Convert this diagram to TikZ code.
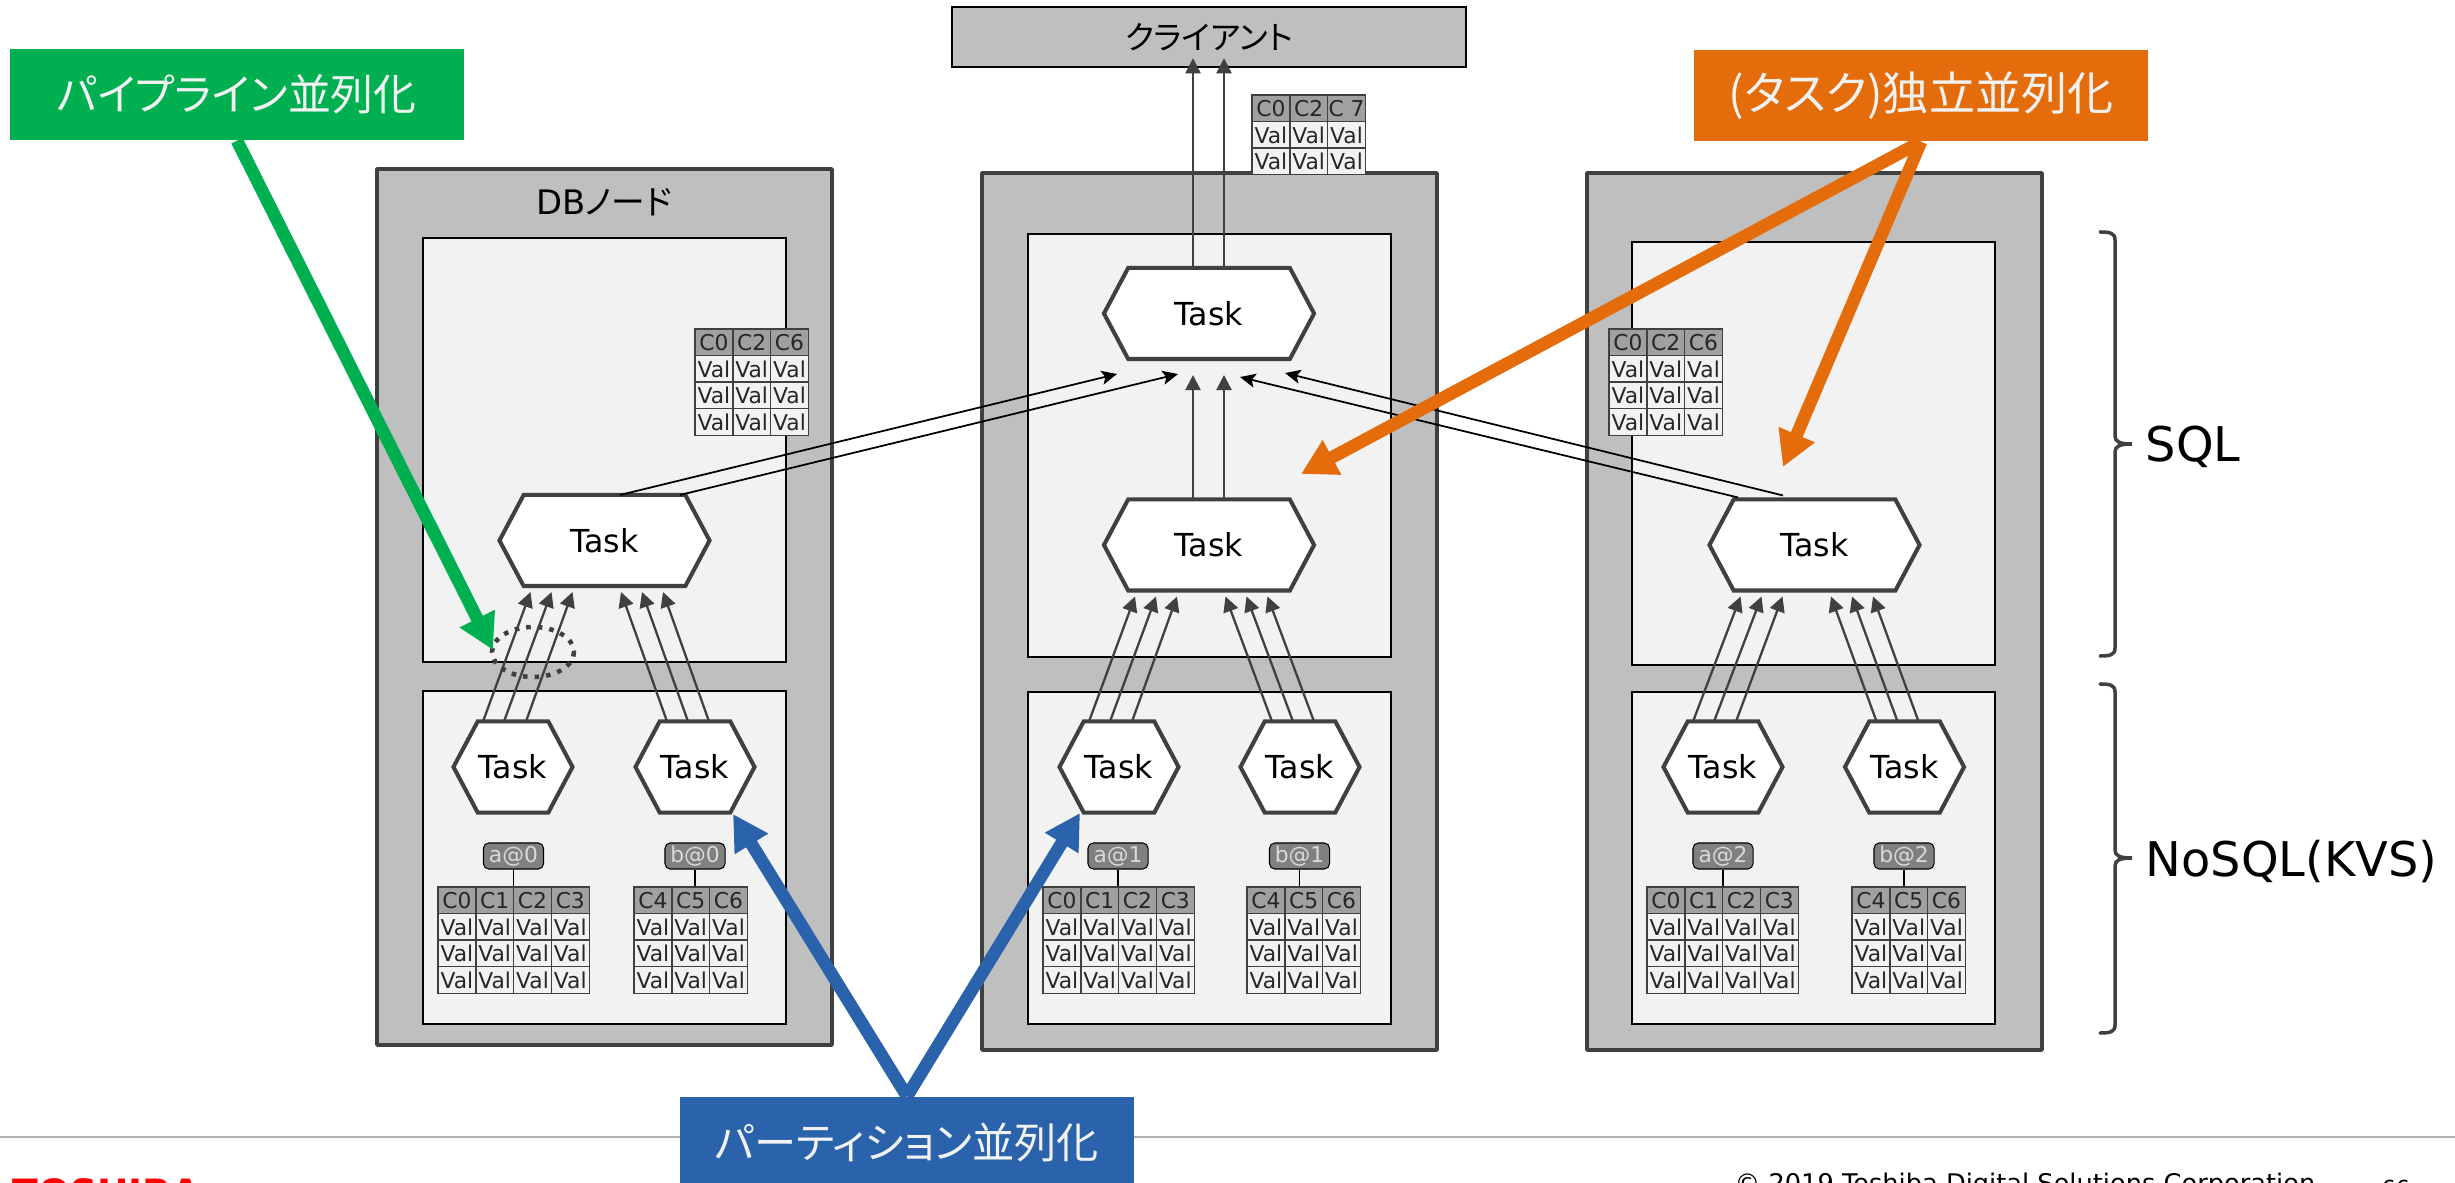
\documentclass[tikz,border=0pt]{standalone}
\usepackage{fontspec}
\usetikzlibrary{arrows.meta, calc, shapes.symbols}
\setmainfont{DejaVu Sans}
\newfontfamily\cjkfont[RawFeature=+palt]{Noto Sans CJK JP}
\definecolor{darkline}{HTML}{404040}
\definecolor{dbgray}{HTML}{BFBFBF}
\definecolor{panelgray}{HTML}{F2F2F2}
\definecolor{headgray}{HTML}{A0A0A0}
\definecolor{pipegreen}{HTML}{00B050}
\definecolor{partblue}{HTML}{2A63AB}
\definecolor{taskorange}{HTML}{E46C0A}
\tikzset{>={Triangle[length=4.3pt,width=4.3pt]}}
\tikzset{
    dbbox/.style={draw=darkline, fill=dbgray, line width=1pt, line join=round},
    panel/.style={draw=black, fill=panelgray, line width=0.5pt},
    taskhex/.style={signal, signal to=east and west, signal pointer angle=124, draw=darkline, fill=white,
        line width=1.15pt, outer sep=0pt, inner sep=0pt, minimum height=9.1mm, minimum width=11.9mm,
        font=\fontsize{9}{10}\selectfont},
    widehex/.style={taskhex, minimum width=21mm},
    tagbox/.style={draw=black, fill=black!50, rounded corners=1.5pt, line width=0.3pt, inner sep=0pt,
        minimum width=6mm, minimum height=2.6mm, text=black!15, font=\fontsize{6.2}{7}\selectfont},
    tagline/.style={draw=black, line width=0.4pt},
    cellbox/.style={draw=darkline, line width=0.4pt, inner sep=0pt, minimum width=3.78mm, minimum height=2.66mm,
        text=black!85, font=\fontsize{6.2}{7}\selectfont},
    headcell/.style={cellbox, fill=headgray},
    valcell/.style={cellbox, fill=panelgray},
    flow/.style={->, draw=darkline, line width=0.65pt},
    shuffle/.style={-{Stealth[length=4.4pt,width=4pt,inset=1pt]}, draw=black, line width=0.5pt},
    callout/.style={inner sep=0pt, minimum width=45.4mm, minimum height=9.1mm, text=panelgray},
    bigarrow/.style={-{Triangle[length=10pt,width=10.5pt]}, line width=3.6pt},
    bracket/.style={draw=darkline, line width=1pt, line cap=round},
    sidetext/.style={anchor=west, inner sep=0pt, font=\fontsize{13.6}{16}\selectfont},
}
\newcommand{\coltable}[5]{
    \foreach \colname [count=\i from 0] in {#5} {
        \node[headcell] (#1h\i) at (#2+18.9+37.8*\i, #3+13.3) {\colname};
        \foreach \r in {1,...,#4}
            \node[valcell] (#1r\r c\i) at (#2+18.9+37.8*\i, #3+13.3+26.6*\r) {Val};
    }
}
\begin{document}
\begin{tikzpicture}[x=0.01cm, y=-0.01cm]
    \useasboundingbox (0,0) rectangle (2455,1183);
    \draw[draw=black!30, line width=0.6pt] (0,1137) -- (2455,1137);

    \foreach \xo/\yo/\yb/\xi/\yu/\yv/\yw in {377/169/1045/423/238/662/691, 982/173/1050/1028/234/657/692, 1587/173/1050/1632/242/665/692} {
        \draw[dbbox] (\xo,\yo) rectangle (\xo+455,\yb);
        \draw[panel] (\xi,\yu) rectangle (\xi+363,\yv);
        \draw[panel] (\xi,\yw) rectangle (\xi+363,1024);
    }
    \node[inner sep=0pt, font=\fontsize{9.6}{11}\selectfont] (dbname) at (604,202) {DB{\cjkfont ノード}};
    \node[draw=black, fill=dbgray, line width=0.7pt, minimum width=51.4mm, minimum height=6mm, inner sep=0pt,
        font=\cjkfont\fontsize{9.2}{11}\selectfont] (client) at (1209,37) {クライアント};

    \foreach \n/\xm/\ym/\xa/\xb/\xta/\xtb/\xga/\xgb/\ytb in {0/604.5/540.5/513/695/438/634/513.5/695/887, 1/1209/545/1119/1300/1043/1247/1118/1299.5/887, 2/1814.5/545/1723/1904.5/1647/1852/1723/1904/887} {
        \node[widehex] (hexm\n) at (\xm,\ym) {Task};
        \node[taskhex] (hexa\n) at (\xa,767) {Task};
        \node[taskhex] (hexb\n) at (\xb,767) {Task};
        \node[tagbox] (taga\n) at (\xga,856) {a@\n};
        \node[tagbox] (tagb\n) at (\xgb,856) {b@\n};
        \coltable{ta\n}{\xta}{\ytb}{3}{C0,C1,C2,C3}
        \coltable{tb\n}{\xtb}{\ytb}{3}{C4,C5,C6}
        \draw[tagline] (taga\n.south) -- (taga\n.south |- ta\n h0.north);
        \draw[tagline] (tagb\n.south) -- (tagb\n.south |- tb\n h0.north);
        \foreach \sa/\ea in {-30/-74, -9/-53, 13/-32}
            \draw[flow] ($(hexa\n.north)+(\sa,0)$) -- ($(hexm\n.south)+(\ea,6)$);
        \foreach \sb/\eb in {-28/16.5, -7/37.5, 14/58.5}
            \draw[flow] ($(hexb\n.north)+(\sb,0)$) -- ($(hexm\n.south)+(\eb,6)$);
    }

    \node[widehex] (hextop) at (1209,313.5) {Task};
    \foreach \dx in {-16,15} {
        \draw[flow] ($(hexm1.north)+(\dx,0)$) -- ($(hextop.south)+(\dx,16)$);
        \draw[flow] ($(hextop.north)+(\dx,0)$) -- ($(client.south)+(\dx,-10)$);
    }
    \draw[shuffle] ($(hexm0.north)+(15.5,0)$) -- ($(hextop.south)+(-92,15)$);
    \draw[shuffle] ($(hexm0.north)+(75.5,0)$) -- ($(hextop.south)+(-31,15)$);
    \draw[shuffle] ($(hexm2.north)+(-31.5,-4)$) -- ($(hextop.south)+(76,14)$);
    \draw[shuffle] ($(hexm2.north)+(-76.5,-2)$) -- ($(hextop.south)+(31,18)$);

    \coltable{tabl}{695}{329}{3}{C0,C2,C6}
    \coltable{tabm}{1252}{95}{2}{C0,C2,C 7}
    \coltable{tabr}{1609}{329}{3}{C0,C2,C6}

    \draw[darkline, line width=1.3pt, dash pattern=on 1.3pt off 2pt] (533,652) ellipse [x radius=41, y radius=25];

    \coordinate (greentip) at (493,650);
    \coordinate (bluetipa) at (733,814);
    \coordinate (bluetipb) at (1080,813);
    \coordinate (orangetipa) at (1301,474);
    \coordinate (orangetipb) at (1783,467);
    \node[callout, fill=pipegreen, font=\cjkfont\fontsize{12.2}{15}\selectfont] (pipeline) at (237,94.5) {パイプライン並列化};
    \node[callout, fill=taskorange, font=\cjkfont\fontsize{13.1}{15}\selectfont] (independent) at (1921,95.5) {(タスク)独立並列化};
    \node[callout, fill=partblue, font=\cjkfont\fontsize{12}{15}\selectfont] (partition) at (907,1142.5) {パーティション並列化};
    \draw[bigarrow, draw=partblue, fill=partblue] (partition.north) -- (bluetipa);
    \draw[bigarrow, draw=partblue, fill=partblue] (partition.north) -- (bluetipb);
    \draw[bigarrow, draw=pipegreen, fill=pipegreen] (pipeline.south) -- (greentip);
    \draw[bigarrow, draw=taskorange, fill=taskorange] (independent.south) -- (orangetipa);
    \draw[bigarrow, draw=taskorange, fill=taskorange] (independent.south) -- (orangetipb);

    \draw[bracket] (2100,232) .. controls (2110,232) and (2115,233) .. (2115,240) -- (2115,436) .. controls (2115,442) and (2120,444) .. (2132,444) .. controls (2120,444) and (2115,446) .. (2115,452) -- (2115,648) .. controls (2115,655) and (2110,656) .. (2100,656);
    \draw[bracket] (2100,684) .. controls (2110,684) and (2115,685) .. (2115,692) -- (2115,850) .. controls (2115,856) and (2120,858) .. (2132,858) .. controls (2120,858) and (2115,860) .. (2115,866) -- (2115,1025) .. controls (2115,1032) and (2110,1033) .. (2100,1033);
    \node[sidetext] (sqllabel) at (2145,447) {SQL};
    \node[sidetext] (kvslabel) at (2145,862) {NoSQL(KVS)};

    \node[anchor=base west, inner sep=0pt, text=red, font=\bfseries\fontsize{10.7}{12}\selectfont] (logo) at (12,1206) {TOSHIBA};
    \node[anchor=base west, inner sep=0pt, font=\fontsize{7.3}{9}\selectfont] (copyright) at (1734,1192) {© 2019 Toshiba Digital Solutions Corporation};
    \node[anchor=base west, inner sep=0pt, font=\fontsize{6.3}{8}\selectfont] (pagenum) at (2381,1196) {66};
\end{tikzpicture}
\end{document}
